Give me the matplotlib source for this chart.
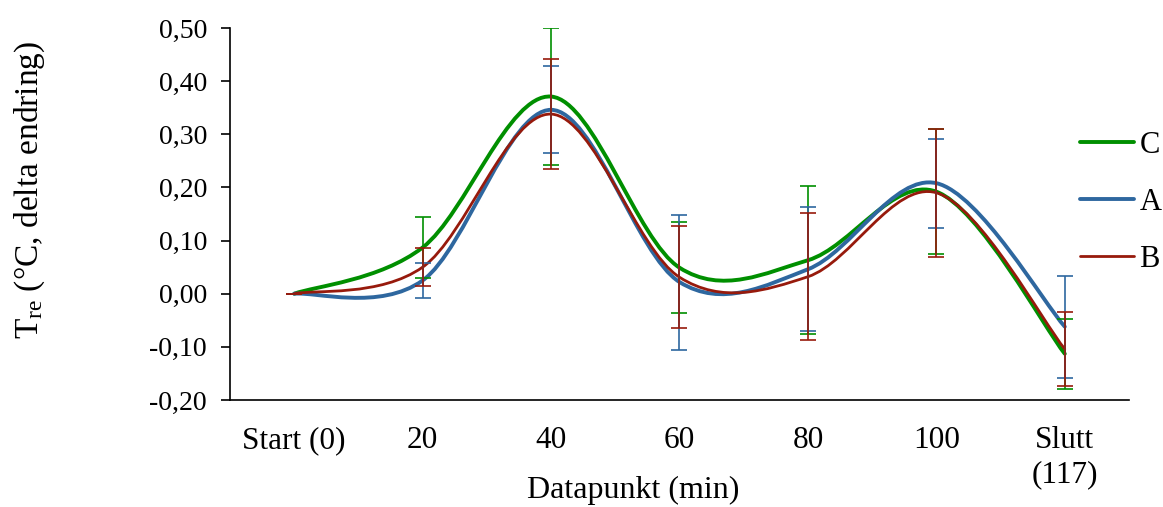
import matplotlib
matplotlib.use("Agg")
import matplotlib.pyplot as plt
from matplotlib.path import Path
from matplotlib.patches import PathPatch
from matplotlib.lines import Line2D
import numpy as np

categories = ["Start (0)", "20", "40", "60", "80", "100", "Slutt\n(117)"]
series_names = ["C", "A", "B"]
values_C = [0.0, 0.087, 0.371, 0.049, 0.063, 0.192, -0.113]
values_A = [0.0, 0.025, 0.346, 0.022, 0.046, 0.208, -0.062]
values_B = [0.0, 0.050, 0.338, 0.031, 0.032, 0.190, -0.104]
err_C = [0.0, 0.057, 0.129, 0.086, 0.139, 0.118, 0.066]
err_A = [0.0, 0.033, 0.082, 0.127, 0.117, 0.084, 0.096]
err_B = [0.0, 0.036, 0.103, 0.096, 0.120, 0.120, 0.070]
yticks = [-0.2, -0.1, 0.0, 0.1, 0.2, 0.3, 0.4, 0.5]

colors = {"C": "#008f00", "A": "#2e679f", "B": "#971a0c"}
widths = {"C": 2.8, "A": 2.8, "B": 2.0}

plt.rcParams["font.family"] = ["Liberation Serif", "DejaVu Serif"]
plt.rcParams["mathtext.fontset"] = "custom"
plt.rcParams["mathtext.rm"] = "Liberation Serif"
plt.rcParams["mathtext.it"] = "Liberation Serif:italic"

W, H = 1163, 507
fig = plt.figure(figsize=(W / 100, H / 100), dpi=100)
ax = fig.add_axes([230 / W, 1 - 400 / H, (1129 - 230) / W, (400 - 28) / H])

def smooth_path(xs, ys):
    pts = np.column_stack([xs, ys]).astype(float)
    n = len(pts)
    verts = [pts[0]]
    codes = [Path.MOVETO]
    for i in range(n - 1):
        p0 = pts[i - 1] if i > 0 else pts[i]
        p1 = pts[i]
        p2 = pts[i + 1]
        p3 = pts[i + 2] if i + 2 < n else pts[i + 1]
        c1 = p1 + (p2 - p0) / 6.0
        c2 = p2 - (p3 - p1) / 6.0
        verts += [c1, c2, p2]
        codes += [Path.CURVE4] * 3
    return Path(verts, codes)

x = np.arange(len(categories))
data = {"C": (values_C, err_C), "A": (values_A, err_A), "B": (values_B, err_B)}
handles = []
for name in series_names:
    vals, errs = data[name]
    patch = PathPatch(smooth_path(x, vals), facecolor="none",
                      edgecolor=colors[name], lw=widths[name],
                      capstyle="round", joinstyle="round")
    ax.add_patch(patch)
    ax.errorbar(x, vals, yerr=errs, fmt="none", ecolor=colors[name],
                elinewidth=1.2, capsize=5.8, capthick=1.2)
    handles.append(Line2D([], [], color=colors[name], lw=widths[name],
                          solid_capstyle="round"))

ax.set_xlim(-0.5, len(categories) - 0.5)
ax.set_ylim(-0.2, 0.5)
ax.set_yticks(yticks)
ax.set_yticklabels([f"{v:.2f}".replace(".", ",") for v in yticks])
ax.set_xticks(x)
ax.set_xticklabels(categories)
ax.tick_params(axis="y", length=6.5, width=1.2, pad=10, labelsize=20, direction="out")
ax.tick_params(axis="x", length=0, pad=19, labelsize=22.5)
ax.get_xticklabels()[-1].set_linespacing(1.22)
for s in ["top", "right"]:
    ax.spines[s].set_visible(False)
for s in ["left", "bottom"]:
    ax.spines[s].set_linewidth(1.2)

fig.text(633 / W, 1 - 490 / H, "Datapunkt (min)", ha="center", va="center", fontsize=23)
fig.text(30 / W, 1 - 190 / H, r"T$_{\mathrm{re}}$ (°C, delta endring)", ha="center",
         va="center", rotation=90, fontsize=24)

fig.legend(handles, series_names, loc="upper left",
           bbox_to_anchor=(1080 / W, 1 - 131 / H), frameon=False,
           fontsize=22, handlelength=1.76, handletextpad=0.18,
           labelspacing=0.91, borderpad=0, borderaxespad=0)

fig.savefig("out.png", dpi=100)
